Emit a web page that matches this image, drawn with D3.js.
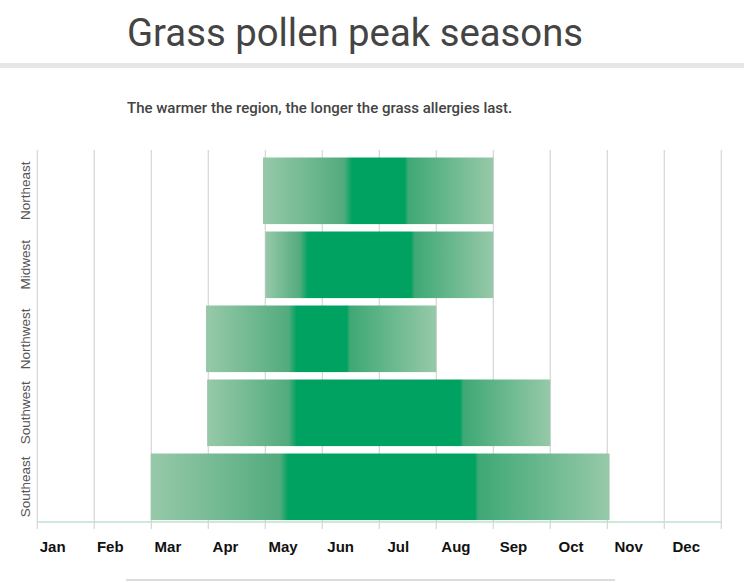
<!DOCTYPE html>
<html>
<head>
<meta charset="utf-8">
<script src="https://cdn.jsdelivr.net/npm/d3@7"></script>
<style>
  html, body { margin: 0; padding: 0; background: #fff; }
  svg { display: block; }
</style>
</head>
<body>
<svg id="chart" width="744" height="583"></svg>
<script>
// ---- data ----
const title = "Grass pollen peak seasons";
const subtitle = "The warmer the region, the longer the grass allergies last.";
const months = ["Jan","Feb","Mar","Apr","May","Jun","Jul","Aug","Sep","Oct","Nov","Dec"];
const regions = ["Northeast","Midwest","Northwest","Southwest","Southeast"];
// season values in months from Jan 1 (0 = Jan 1, 12 = end of Dec)
const seasonStart = [3.96, 4.0, 2.96, 2.98, 1.99];
const peakStart   = [5.52, 4.75, 4.55, 4.55, 4.4];
const peakEnd     = [6.45, 6.56, 5.43, 7.42, 7.68];
const seasonEnd   = [8.0, 8.0, 7.0, 9.0, 10.04];

const svg = d3.select("#chart");
const W = 744, H = 583;

// header
svg.append("text").attr("x", 127).attr("y", 46)
  .attr("font-family", "Roboto").attr("font-size", 38.3).attr("fill", "#444")
  .text(title);
svg.append("rect").attr("x", 0).attr("y", 63).attr("width", W).attr("height", 5).attr("fill", "#e6e6e6");
svg.append("text").attr("x", 127).attr("y", 113)
  .attr("font-family", "Roboto").attr("font-weight", 500).attr("font-size", 15).attr("fill", "#444")
  .text(subtitle);

// scales
const x = d3.scaleLinear().domain([0, 12]).range([37.3, 721.3]);
const y = d3.scaleBand().domain(regions).range([153.8, 523.8]).paddingInner(0.1).paddingOuter(0.05);
const xLabel = d3.scalePoint().domain(months).range([52.7, 686.3]);

const gridTop = 150, baseY = 522, tickBottom = 529;

// gridlines
svg.append("g").selectAll("line").data(d3.range(0, 13)).join("line")
  .attr("x1", d => x(d)).attr("x2", d => x(d))
  .attr("y1", gridTop).attr("y2", tickBottom)
  .attr("stroke", "#d9d9d9").attr("stroke-width", 1.3);

// gradients
const light = "#97c9a9", solid = "#00a262", medL = "#52ab7d", medR = "#3ea874";
const defs = svg.append("defs");
regions.forEach((r, i) => {
  const x0 = x(seasonStart[i]), x1 = x(seasonEnd[i]);
  const w = x1 - x0;
  const g = defs.append("linearGradient").attr("id", "grad" + i)
    .attr("x1", "0%").attr("x2", "100%").attr("y1", "0%").attr("y2", "0%");
  const ps = x(peakStart[i]), pe = x(peakEnd[i]);
  const stops = [
    [0, light],
    [((ps - 8 - x0) / w) * 100, medL],
    [((ps - x0) / w) * 100, solid],
    [((pe - x0) / w) * 100, solid],
    [((pe + 3 - x0) / w) * 100, medR],
    [100, light]
  ];
  stops.forEach(([o, c]) => g.append("stop").attr("offset", o + "%").attr("stop-color", c));
});

// bars
svg.append("g").selectAll("rect").data(regions).join("rect")
  .attr("x", (d, i) => x(seasonStart[i]))
  .attr("y", d => y(d))
  .attr("width", (d, i) => x(seasonEnd[i]) - x(seasonStart[i]))
  .attr("height", y.bandwidth())
  .attr("fill", (d, i) => "url(#grad" + i + ")");

// baseline
svg.append("line").attr("x1", x(0)).attr("x2", x(12)).attr("y1", baseY).attr("y2", baseY)
  .attr("stroke", "#bfe1cc").attr("stroke-width", 1.5);

// month labels
svg.append("g").selectAll("text").data(months).join("text")
  .attr("x", d => xLabel(d)).attr("y", 552)
  .attr("text-anchor", "middle")
  .attr("font-family", "Liberation Sans, Arial, sans-serif").attr("font-weight", "bold")
  .attr("font-size", 15).attr("fill", "#111")
  .text(d => d);

// region labels
svg.append("g").selectAll("text").data(regions).join("text")
  .attr("transform", d => `translate(30,${y(d) + y.bandwidth() / 2}) rotate(-90)`)
  .attr("text-anchor", "middle")
  .attr("font-family", "Liberation Sans, Arial, sans-serif")
  .attr("font-size", 13.5).attr("fill", "#555")
  .text(d => d);

// footer rule
svg.append("line").attr("x1", 126).attr("x2", 615).attr("y1", 580).attr("y2", 580)
  .attr("stroke", "#dcdcdc").attr("stroke-width", 2);
</script>
</body>
</html>
